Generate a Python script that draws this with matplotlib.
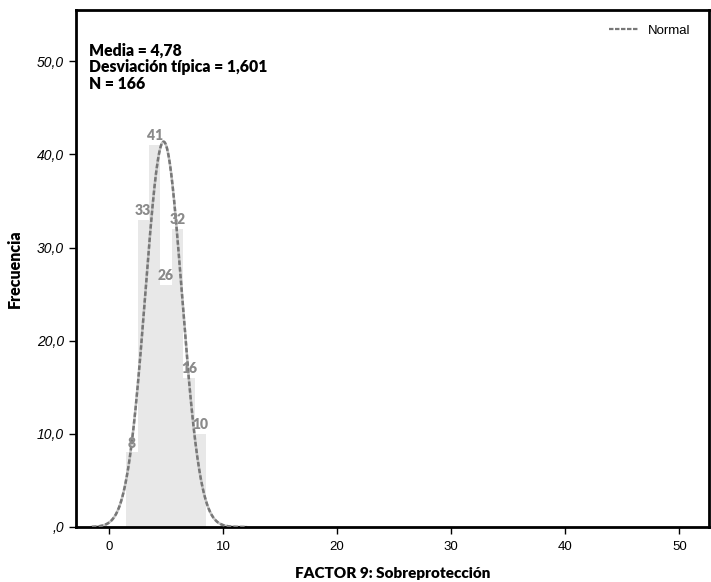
import numpy as np
import matplotlib.pyplot as plt

# histogram data
centers = [2, 3, 4, 5, 6, 7, 8]
counts = [8, 33, 41, 26, 32, 16, 10]
bin_width = 1.0
media = 4.78
desv = 1.601
n = 166

xticks = [0, 10, 20, 30, 40, 50]
yticks = [0, 10, 20, 30, 40, 50]
ytick_labels = [",0", "10,0", "20,0", "30,0", "40,0", "50,0"]

fig = plt.figure(figsize=(7.11, 5.82), dpi=100)
ax = fig.add_axes([76 / 711, 1 - 527 / 582, (709 - 76) / 711, (527 - 10) / 582])

ax.bar(centers, counts, width=bin_width, color="#e8e8e8", edgecolor="none", zorder=1)
for c, v in zip(centers, counts):
    ax.text(c, v + 0.3, str(v), ha="center", va="bottom", color="#8a8a8a",
            fontsize=10, fontweight="heavy", family="Lato", zorder=4)

xs = np.linspace(-1.5, 12, 400)
ys = n * bin_width / (desv * np.sqrt(2 * np.pi)) * np.exp(-0.5 * ((xs - media) / desv) ** 2)
ax.plot(xs, ys, color="#c4c4c4", lw=1.8, zorder=2)
ax.plot(xs, ys, color="#777777", lw=1.8, ls=(0, (1.8, 0.9)), zorder=3)

ax.set_xlim(-2.9, 52.6)
ax.set_ylim(0, 55.5)
ax.set_xticks(xticks)
ax.set_xticklabels([str(t) for t in xticks], family="Liberation Sans", fontsize=9.5)
ax.set_yticks(yticks)
ax.set_yticklabels(ytick_labels, family="Liberation Sans", fontsize=10, style="italic")
ax.tick_params(direction="out", length=5, width=1, colors="black")
ax.tick_params(axis="x", pad=5)
for s in ax.spines.values():
    s.set_linewidth(2)

ax.set_xlabel("FACTOR 9: Sobreprotección", family="Lato", fontweight="heavy", fontsize=11, labelpad=10)
ax.set_ylabel("Frecuencia", family="Lato", fontweight="heavy", fontsize=11.5, labelpad=10)

ax.text(0.021, 0.937, "Media = 4,78\nDesviación típica = 1,601\nN = 166",
        transform=ax.transAxes, ha="left", va="top", family="Lato",
        fontweight="heavy", fontsize=11.3, linespacing=1.05)

ax.plot([], [], color="#777777", lw=1.6, ls=(0, (2, 0.7)), label="Normal")
leg = ax.legend(loc="upper right", frameon=False, handlelength=2.2,
                prop={"family": "Liberation Sans", "size": 9.5},
                bbox_to_anchor=(0.99, 0.995))

fig.savefig("out.png", dpi=100)
